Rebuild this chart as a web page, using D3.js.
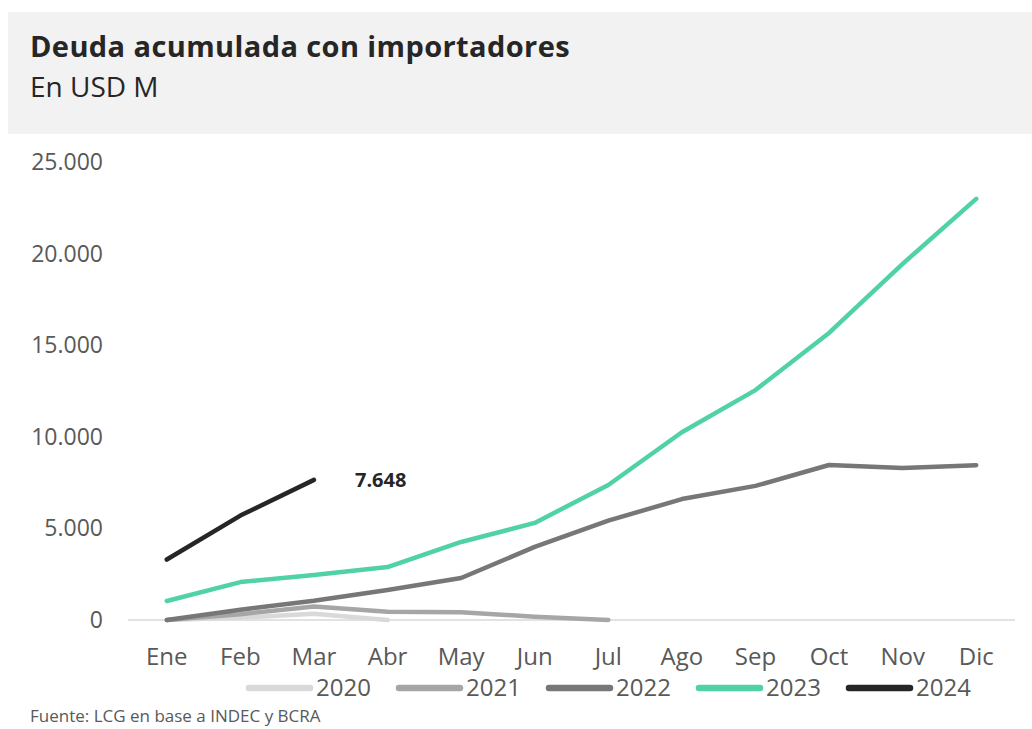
<!DOCTYPE html>
<html>
<head>
<meta charset="utf-8">
<script src="https://cdn.jsdelivr.net/npm/d3@7"></script>
<style>
  body { margin: 0; background: #fff; }
  text { font-family: "Open Sans", sans-serif; }
</style>
</head>
<body>
<div id="chart"></div>
<script>
// data
var months = ['Ene', 'Feb', 'Mar', 'Abr', 'May', 'Jun', 'Jul', 'Ago', 'Sep', 'Oct', 'Nov', 'Dic'];
var years = ['2020', '2021', '2022', '2023', '2024'];
var v2020 = [0, 130, 340, 0];
var v2021 = [0, 320, 740, 450, 420, 180, 0];
var v2022 = [0, 560, 1050, 1640, 2290, 3990, 5420, 6600, 7320, 8460, 8300, 8450];
var v2023 = [1040, 2070, 2460, 2890, 4260, 5300, 7370, 10250, 12550, 15670, 19440, 22990];
var v2024 = [3300, 5700, 7648];
var yTicks = [0, 5000, 10000, 15000, 20000, 25000];
var colors = ['#d9d9d9', '#a6a6a6', '#777777', '#50d2a6', '#262626'];

var series = [v2020, v2021, v2022, v2023, v2024];

var width = 1032, height = 729;
var svg = d3.select('#chart').append('svg')
    .attr('width', width)
    .attr('height', height);

// header box
svg.append('rect')
    .attr('x', 8).attr('y', 12)
    .attr('width', width - 8).attr('height', 122)
    .attr('fill', '#f2f2f2');
svg.append('text')
    .attr('x', 30).attr('y', 57)
    .style('font-size', '29px')
    .style('font-weight', 'bold')
    .style('letter-spacing', '0.4px')
    .attr('fill', '#262626')
    .text('Deuda acumulada con importadores');
svg.append('text')
    .attr('x', 30).attr('y', 97)
    .style('font-size', '28px')
    .attr('fill', '#262626')
    .text('En USD M');

var x = d3.scaleBand()
    .domain(months)
    .range([130, 1013]);
var y = d3.scaleLinear()
    .domain([0, 25000])
    .range([620, 162]);

var fmt = function(d) { return d3.format(',')(d).replace(/,/g, '.'); };

// y labels
svg.append('g').selectAll('text')
    .data(yTicks)
    .join('text')
    .attr('x', 103)
    .attr('y', d => y(d))
    .attr('dy', '0.35em')
    .attr('text-anchor', 'end')
    .style('font-size', '23px')
    .attr('fill', '#595959')
    .text(fmt);

// baseline
svg.append('line')
    .attr('x1', 128).attr('x2', 1015)
    .attr('y1', y(0)).attr('y2', y(0))
    .attr('stroke', '#d9d9d9')
    .attr('stroke-width', 1.5);

// x labels
svg.append('g').selectAll('text')
    .data(months)
    .join('text')
    .attr('x', d => x(d) + x.bandwidth() / 2)
    .attr('y', 665)
    .attr('text-anchor', 'middle')
    .style('font-size', '24px')
    .attr('fill', '#595959')
    .text(d => d);

var line = d3.line()
    .x((d, i) => x(months[i]) + x.bandwidth() / 2)
    .y(d => y(d));

svg.append('g').selectAll('path')
    .data(series)
    .join('path')
    .attr('d', line)
    .attr('fill', 'none')
    .attr('stroke', (d, i) => colors[i])
    .attr('stroke-width', 4.5)
    .attr('stroke-linejoin', 'round')
    .attr('stroke-linecap', 'round');

// label last 2024 value
var last = v2024.length - 1;
svg.append('text')
    .attr('x', x(months[last]) + x.bandwidth() / 2 + 41)
    .attr('y', y(v2024[last]))
    .attr('dy', '0.35em')
    .style('font-size', '20px')
    .style('font-weight', 'bold')
    .attr('fill', '#262626')
    .text(fmt(v2024[last]));

// legend
var legend = svg.append('g').selectAll('g')
    .data(years)
    .join('g')
    .attr('transform', (d, i) => 'translate(' + (249 + i * 150) + ', 688)');
legend.append('line')
    .attr('x1', 0).attr('x2', 61)
    .attr('y1', 0).attr('y2', 0)
    .attr('stroke', (d, i) => colors[i])
    .attr('stroke-width', 6.5)
    .attr('stroke-linecap', 'round');
legend.append('text')
    .attr('x', 67)
    .attr('y', 0)
    .attr('dy', '0.35em')
    .style('font-size', '24px')
    .attr('fill', '#595959')
    .text(d => d);

// source
svg.append('text')
    .attr('x', 30).attr('y', 722)
    .style('font-size', '17px')
    .attr('fill', '#595959')
    .text('Fuente: LCG en base a INDEC y BCRA');
</script>
</body>
</html>
